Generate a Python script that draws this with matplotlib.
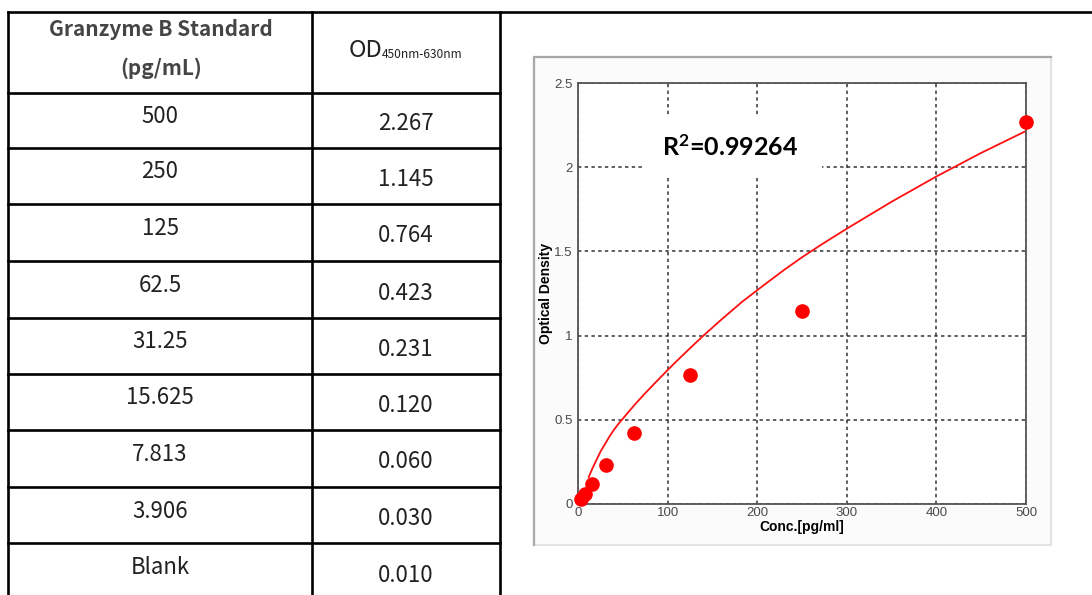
import matplotlib
matplotlib.use("Agg")
import matplotlib.pyplot as plt
from matplotlib.patches import Rectangle

plt.rcParams["mathtext.fontset"] = "custom"
plt.rcParams["mathtext.bf"] = "Lato:bold"
plt.rcParams["mathtext.rm"] = "Lato:bold"

# ---- data ----
conc_labels = ["500", "250", "125", "62.5", "31.25", "15.625", "7.813", "3.906", "Blank"]
od_labels = ["2.267", "1.145", "0.764", "0.423", "0.231", "0.120", "0.060", "0.030", "0.010"]

std_conc = [500, 250, 125, 62.5, 31.25, 15.625, 7.813, 3.906]
std_od = [2.267, 1.145, 0.764, 0.423, 0.231, 0.120, 0.060, 0.030]

# standard curve, points
fit_x = [12, 16, 20, 25, 30, 35, 40, 45, 49, 55, 65, 75, 88, 100, 110, 125, 140, 160,
         183, 205, 230, 250, 270, 300, 325, 350, 375, 400, 425, 450, 475, 500]
fit_y = [0.160, 0.210, 0.255, 0.310, 0.355, 0.400, 0.440, 0.475, 0.500, 0.538, 0.600,
         0.658, 0.730, 0.795, 0.848, 0.925, 1.000, 1.095, 1.200, 1.290, 1.390, 1.465,
         1.535, 1.635, 1.715, 1.795, 1.870, 1.945, 2.015, 2.085, 2.150, 2.215]

r2_text = r"$\mathbf{R^2}$=0.99264"
x_ticks = [0, 100, 200, 300, 400, 500]
y_ticks = [0, 0.5, 1, 1.5, 2, 2.5]
y_tick_labels = ["0", "0.5", "1", "1.5", "2", "2.5"]

W, H = 1092, 595
fig = plt.figure(figsize=(W / 100, H / 100), dpi=100)

# ---- table drawn in pixel coords ----
tab = fig.add_axes([0, 0, 1, 1])
tab.set_xlim(0, W)
tab.set_ylim(H, 0)
tab.axis("off")

lw_tab = 1.9
row_edges = [12, 93, 148, 204, 261, 318, 374, 430, 487, 543]
tab.plot([8, W], [12, 12], color="black", lw=lw_tab, solid_capstyle="projecting")
for y in row_edges[1:]:
    tab.plot([8, 500], [y, y], color="black", lw=lw_tab, solid_capstyle="projecting")
for x in [8, 312, 500]:
    tab.plot([x, x], [12, H + 5], color="black", lw=lw_tab, solid_capstyle="projecting")

cjk = ["Noto Sans CJK SC", "DejaVu Sans"]
tab.text(161, 30, "Granzyme B Standard", ha="center", va="center", fontsize=15,
         fontweight="bold", color="#454545", family=cjk)
tab.text(161, 68, "(pg/mL)", ha="center", va="center", fontsize=15,
         fontweight="bold", color="#454545", family=cjk)
tab.text(382, 57, "OD", ha="right", va="baseline", fontsize=17, color="#222222", family=cjk)
tab.text(382, 58, "450nm-630nm", ha="left", va="baseline", fontsize=8.6,
         color="#222222", family=cjk)

for i, (c, o) in enumerate(zip(conc_labels, od_labels)):
    top = row_edges[i + 1]
    bot = row_edges[i + 2] if i + 2 < len(row_edges) else 600
    mid = (top + bot) / 2
    tab.text(160, mid - 4, c, ha="center", va="center", fontsize=16,
             color="#222222", family=cjk)
    tab.text(406, mid + 3.5, o, ha="center", va="center", fontsize=16,
             color="#222222", family=cjk)

# chart panel frame
tab.add_patch(Rectangle((534, 57), 517, 488, facecolor="#fbfbfb", edgecolor="#e2e2e2", lw=1.5))
tab.plot([534, 534, 1051], [545, 57, 57], color="#a8a8a8", lw=1.6)

# ---- standard curve ----
ax = fig.add_axes([578 / W, 1 - 504 / H, 448 / W, 421 / H])
ax.set_facecolor("white")
ax.set_xlim(0, 500)
ax.set_ylim(0, 2.5)
ax.set_xticks(x_ticks)
ax.set_yticks(y_ticks)
ax.set_yticklabels(y_tick_labels)
ax.tick_params(length=0, labelsize=9.5, labelcolor="#4a4a4a", pad=4)
ax.tick_params(axis="x", pad=2)
for lab in ax.get_xticklabels() + ax.get_yticklabels():
    lab.set_family("Liberation Sans")
for s in ax.spines.values():
    s.set_color("#555555")
    s.set_linewidth(1.3)
ax.set_axisbelow(True)
ax.grid(True, color="#333333", lw=1.1, linestyle=(0, (2.2, 2.2)))

ax.add_patch(Rectangle((71.4, 1.94), 200.6, 0.37, facecolor="white", edgecolor="none", zorder=1))
ax.text(170, 2.12, r2_text, ha="center", va="center", fontsize=18,
        fontweight="bold", family="Lato", color="black", zorder=3)

ax.plot(fit_x, fit_y, color="#ff1010", lw=1.3, zorder=2)
ax.plot(std_conc, std_od, "o", color="#ff0000", ms=9.5, mec="#ff0000", zorder=4, clip_on=False)

ax.set_xlabel("Conc.[pg/ml]", fontsize=10, fontweight="bold", family="Liberation Sans", labelpad=1)
ax.set_ylabel("Optical Density", fontsize=10, fontweight="bold", family="Liberation Sans", labelpad=1)

fig.savefig("out.png", dpi=100)
